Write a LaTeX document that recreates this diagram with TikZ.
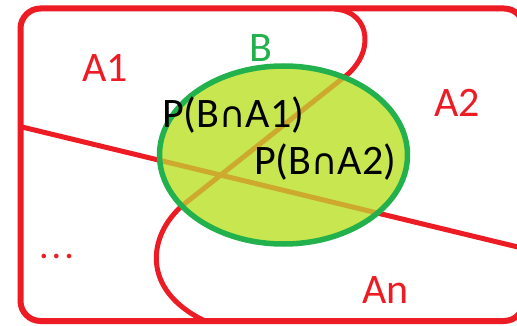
\documentclass[tikz,border=0pt]{standalone}
\usepackage{fontspec}
\setmainfont{Carlito}
\newfontfamily\symfont{DejaVu Sans}
\definecolor{pred}{RGB}{237,28,36}
\definecolor{pgreen}{RGB}{34,177,76}
\definecolor{plime}{RGB}{200,230,80}
\definecolor{polive}{RGB}{205,170,45}
\newcommand{\capsym}{{\symfont\fontsize{36}{36}\selectfont ∩}}
\begin{document}
\begin{tikzpicture}[x=1pt,y=-1pt,
  part/.style={draw=pred,line width=5pt,line cap=round,line join=round},
  inpart/.style={draw=polive,line width=5pt},
  lbl/.style={inner sep=0pt,anchor=base west,font=\fontsize{42}{42}\selectfont},
  redlbl/.style={lbl,text=pred},
  ]
\useasboundingbox (0,0) rectangle (517,326);
\fill[white] (0,0) rectangle (517,326);
% outer sample space
\draw[part,line width=6pt,rounded corners=20pt] (20.5,8.5) rectangle (524,321);
% partition lines
\coordinate (l1a) at (22,127);
\coordinate (l1b) at (524,248.5);
\draw[part] (l1a) -- (l1b);
\draw[part] (335,9) .. controls (372,12) and (375,55) .. (343,78) -- (183,205)
  .. controls (148,235) and (140,290) .. (205,321);
% event B
\coordinate (bc) at (283.5,155);
\fill[plime] (bc) ellipse [x radius=124,y radius=89];
\begin{scope}
  \clip (bc) ellipse [x radius=124,y radius=89];
  \draw[inpart] (l1a) -- (l1b);
  \draw[inpart] (343,78) -- (183,205);
\end{scope}
\draw[pgreen,line width=5.5pt] (bc) ellipse [x radius=124,y radius=89];
% labels
\node[redlbl] (a1) at (82,82) {A1};
\node[lbl,text=pgreen] (b) at (249,62) {B};
\node[lbl] (pba1) at (162,128) {P(B\capsym A1)};
\node[lbl] (pba2) at (254,175) {P(B\capsym A2)};
\node[redlbl] (a2) at (434,117) {A2};
\node[redlbl] (an) at (362,303) {An};
\node[redlbl,font=\fontsize{38}{38}\selectfont] (dots) at (39,258) {.\kern3pt.\kern3pt.};
\end{tikzpicture}
\end{document}
